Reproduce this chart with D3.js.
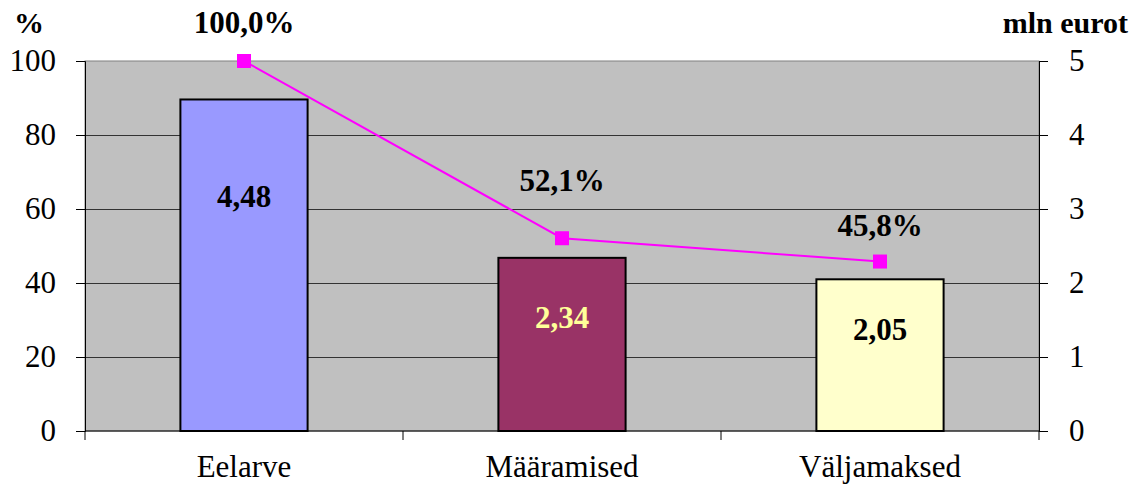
<!DOCTYPE html>
<html>
<head>
<meta charset="utf-8">
<script src="https://cdn.jsdelivr.net/npm/d3@7"></script>
<style>
  body { margin: 0; background: #fff; }
  svg text { font-family: "Liberation Serif", "Times New Roman", serif; }
</style>
</head>
<body>
<div id="chart"></div>
<script>
/* DATA */
const categories = ["Eelarve", "Määramised", "Väljamaksed"];
const amounts = [4.48, 2.34, 2.05];          // mln eurot
const amountLabels = ["4,48", "2,34", "2,05"];
const percents = [100.0, 52.1, 45.8];        // %
const percentLabels = ["100,0%", "52,1%", "45,8%"];
const leftTicks = [0, 20, 40, 60, 80, 100];
const rightTicks = [0, 1, 2, 3, 4, 5];

/* LAYOUT */
const width = 1136, height = 484;
const margin = { top: 61, bottom: 53, left: 85, right: 97 };
const fontSize = 31;
const barColors = ["#9999ff", "#993366", "#ffffcc"];
const amountLabelColors = ["#000", "#ffff99", "#000"];
const amountLabelAt = [3.16, 1.53, 1.36];   // where the value text sits (mln eurot)
const percentLabelDy = [-28, -47, -26];

const svg = d3.select("#chart").append("svg")
  .attr("width", width).attr("height", height);

const x = d3.scaleBand()
  .domain(categories)
  .range([margin.left, width - margin.right])
  .paddingInner(0).paddingOuter(0);

const yPct = d3.scaleLinear().domain([0, 100]).range([height - margin.bottom, margin.top]);
const yAmt = d3.scaleLinear().domain([0, 5]).range([height - margin.bottom, margin.top]);

// plot background
svg.append("rect")
  .attr("x", margin.left).attr("y", margin.top)
  .attr("width", width - margin.left - margin.right)
  .attr("height", height - margin.top - margin.bottom)
  .attr("fill", "#c0c0c0")
  .attr("stroke", "#808080");

// gridlines
svg.append("g").selectAll("line")
  .data(leftTicks.filter(d => d > 0 && d < 100))
  .join("line")
  .attr("x1", margin.left).attr("x2", width - margin.right)
  .attr("y1", d => yPct(d) + 0.5).attr("y2", d => yPct(d) + 0.5)
  .attr("stroke", "#333").attr("stroke-width", 1);

// left axis
const yAxisL = svg.append("g")
  .attr("transform", `translate(${margin.left},0)`)
  .call(d3.axisLeft(yPct).tickValues(leftTicks).tickFormat(d3.format("d"))
    .tickSize(9).tickPadding(20));
yAxisL.select(".domain").attr("stroke", "#000");
yAxisL.selectAll(".tick line").attr("stroke", "#000");
yAxisL.selectAll("text").attr("font-size", fontSize).attr("fill", "#000");

// right axis
const yAxisR = svg.append("g")
  .attr("transform", `translate(${width - margin.right},0)`)
  .call(d3.axisRight(yAmt).tickValues(rightTicks).tickFormat(d3.format("d"))
    .tickSize(9).tickPadding(21));
yAxisR.select(".domain").attr("stroke", "#000");
yAxisR.selectAll(".tick line").attr("stroke", "#000");
yAxisR.selectAll("text").attr("font-size", fontSize).attr("fill", "#000");

// bottom axis
const xAxis = svg.append("g")
  .attr("transform", `translate(0,${height - margin.bottom})`);
xAxis.append("line")
  .attr("x1", margin.left).attr("x2", width - margin.right)
  .attr("stroke", "#000");
xAxis.selectAll(".sep")
  .data(categories.map(c => x(c)).concat([x(categories[2]) + x.bandwidth()]))
  .join("line").attr("class", "sep")
  .attr("x1", d => d).attr("x2", d => d)
  .attr("y1", 0).attr("y2", 9).attr("stroke", "#000");
xAxis.selectAll(".cat")
  .data(categories)
  .join("text").attr("class", "cat")
  .attr("x", d => x(d) + x.bandwidth() / 2)
  .attr("y", 46)
  .attr("text-anchor", "middle")
  .attr("font-size", fontSize)
  .text(d => d);

// bars
const barW = x.bandwidth() * 0.40;
svg.append("g").selectAll("rect")
  .data(categories)
  .join("rect")
  .attr("x", d => x(d) + (x.bandwidth() - barW) / 2)
  .attr("y", (d, i) => yAmt(amounts[i]))
  .attr("width", barW)
  .attr("height", (d, i) => yAmt(0) - yAmt(amounts[i]))
  .attr("fill", (d, i) => barColors[i])
  .attr("stroke", "#000")
  .attr("stroke-width", 2);

// bar labels
svg.append("g").selectAll("text")
  .data(categories)
  .join("text")
  .attr("x", d => x(d) + x.bandwidth() / 2)
  .attr("y", (d, i) => yAmt(amountLabelAt[i]) + 10)
  .attr("text-anchor", "middle")
  .attr("font-size", fontSize)
  .attr("font-weight", "bold")
  .attr("fill", (d, i) => amountLabelColors[i])
  .text((d, i) => amountLabels[i]);

// percent line
const line = d3.line()
  .x(d => x(d.c) + x.bandwidth() / 2)
  .y(d => yPct(d.v));
const pts = categories.map((c, i) => ({ c, v: percents[i], i }));
svg.append("path")
  .datum(pts)
  .attr("d", line)
  .attr("fill", "none")
  .attr("stroke", "#ff00ff")
  .attr("stroke-width", 2);
svg.append("g").selectAll("rect")
  .data(pts)
  .join("rect")
  .attr("x", d => x(d.c) + x.bandwidth() / 2 - 7)
  .attr("y", d => yPct(d.v) - 7)
  .attr("width", 14).attr("height", 14)
  .attr("fill", "#ff00ff");

// percent labels
svg.append("g").selectAll("text")
  .data(pts)
  .join("text")
  .attr("x", d => x(d.c) + x.bandwidth() / 2)
  .attr("y", d => yPct(d.v) + percentLabelDy[d.i])
  .attr("text-anchor", "middle")
  .attr("font-size", fontSize)
  .attr("font-weight", "bold")
  .text(d => percentLabels[d.i]);

// axis titles
svg.append("text")
  .attr("x", 14).attr("y", 33)
  .attr("font-size", 30).attr("font-weight", "bold")
  .text("%");
svg.append("text")
  .attr("x", 1128).attr("y", 33)
  .attr("text-anchor", "end")
  .attr("font-size", 30).attr("font-weight", "bold")
  .text("mln eurot");
</script>
</body>
</html>
